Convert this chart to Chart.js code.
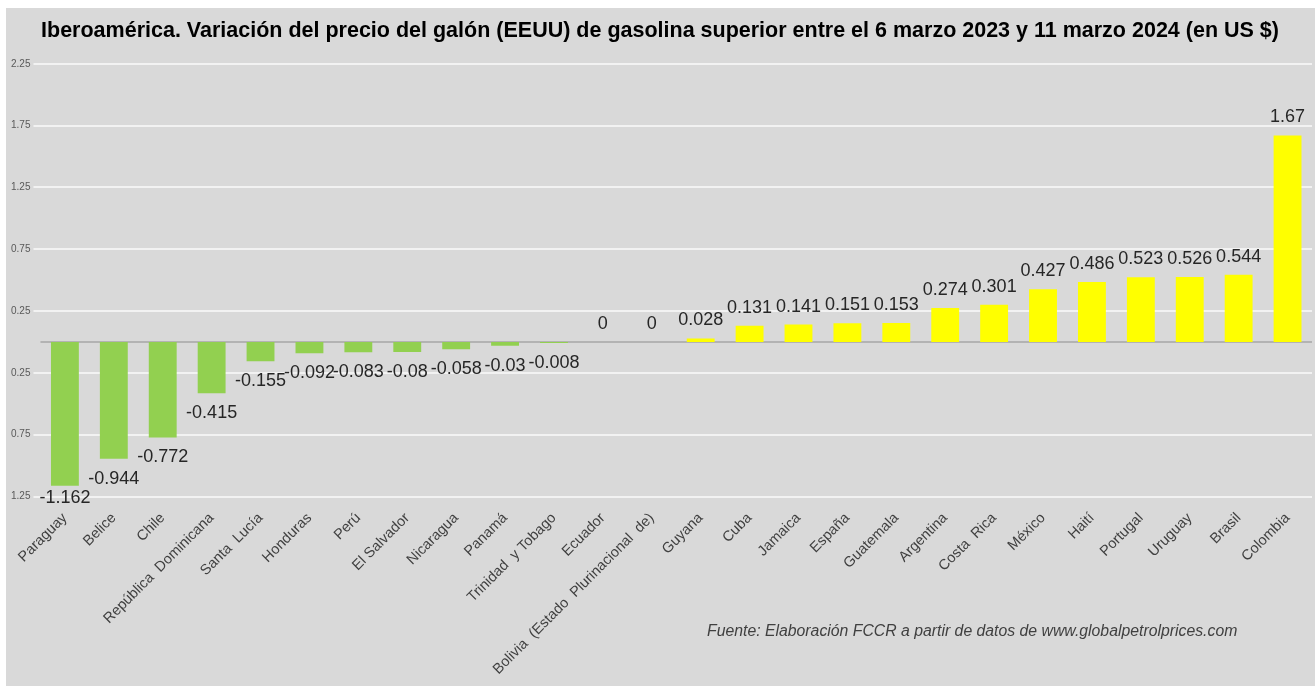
<!DOCTYPE html>
<html>
<head>
<meta charset="utf-8">
<script src="https://cdn.jsdelivr.net/npm/chart.js@4.4.1/dist/chart.umd.min.js"></script>
<style>
    body { margin: 0; background: #ffffff; }
    #wrap { position: absolute; left: 6px; top: 8px; width: 1309px; height: 678px; background: #d9d9d9; }
    #source { position: absolute; left: 701px; top: 614px; font: italic 15.8px "Liberation Sans", Arial, sans-serif; color: #404040; white-space: nowrap; }
</style>
</head>
<body>
<div id="wrap">
    <canvas id="myBarChart"></canvas>
    <div id="source">Fuente: Elaboración FCCR a partir de datos de www.globalpetrolprices.com</div>
</div>
<script>
let barChart;

const countries = ["Paraguay", "Belice", "Chile", "República  Dominicana", "Santa  Lucía", "Honduras", "Perú",
    "El Salvador", "Nicaragua", "Panamá", "Trinidad  y Tobago", "Ecuador", "Bolivia  (Estado  Plurinacional  de)",
    "Guyana", "Cuba", "Jamaica", "España", "Guatemala", "Argentina", "Costa  Rica", "México", "Haití",
    "Portugal", "Uruguay", "Brasil", "Colombia"];

const variation = [-1.162, -0.944, -0.772, -0.415, -0.155, -0.092, -0.083, -0.08, -0.058, -0.03, -0.008, 0, 0,
    0.028, 0.131, 0.141, 0.151, 0.153, 0.274, 0.301, 0.427, 0.486, 0.523, 0.526, 0.544, 1.67];

const yMin = -1.25;
const yMax = 2.25;
const yStep = 0.5;

const titleText = "Iberoamérica. Variación del precio del galón (EEUU) de gasolina superior entre el 6 marzo 2023 y 11 marzo 2024 (en US $)";

// zero line + value labels
const valueLabels = {
    id: 'valueLabels',
    beforeDatasetsDraw(chart) {
        const ctx = chart.ctx;
        const y0 = chart.scales.y.getPixelForValue(0);
        ctx.save();
        ctx.strokeStyle = '#b3b3b3';
        ctx.lineWidth = 2;
        ctx.beginPath();
        ctx.moveTo(chart.chartArea.left, y0);
        ctx.lineTo(chart.chartArea.right, y0);
        ctx.stroke();
        ctx.restore();
    },
    afterDatasetsDraw(chart) {
        const ctx = chart.ctx;
        const meta = chart.getDatasetMeta(0);
        ctx.save();
        ctx.font = '18px "Liberation Sans", Arial, sans-serif';
        ctx.fillStyle = '#262626';
        ctx.textAlign = 'center';
        ctx.textBaseline = 'middle';
        meta.data.forEach(function (bar, i) {
            const v = variation[i];
            let y;
            if (v < 0) {
                y = Math.min(bar.y + 20, chart.chartArea.bottom + 1);
            } else {
                y = bar.y - 18;
            }
            ctx.fillText(String(v), bar.x, y);
        });
        ctx.restore();
    }
};

document.addEventListener('DOMContentLoaded', function () {
    renderBarChart();
});

function renderBarChart() {
    if (barChart) {
        barChart.destroy();
    }
    const ctx = document.getElementById('myBarChart').getContext('2d');
    barChart = new Chart(ctx, {
        type: 'bar',
        data: {
            labels: countries,
            datasets: [{
                data: variation,
                backgroundColor: variation.map(v => v < 0 ? '#92d050' : '#ffff00'),
                barPercentage: 0.57,
                categoryPercentage: 1
            }]
        },
        options: {
            responsive: true,
            maintainAspectRatio: false,
            animation: false,
            layout: { padding: { left: 2, right: 3, top: 0, bottom: 3 } },
            plugins: {
                legend: { display: false },
                tooltip: { enabled: false },
                title: {
                    display: true,
                    text: titleText,
                    color: '#000000',
                    font: { family: '"Liberation Sans", Arial, sans-serif', size: 21.5, weight: 'bold' },
                    padding: { top: 10, bottom: 20 }
                }
            },
            scales: {
                x: {
                    grid: { display: false },
                    border: { display: false },
                    ticks: {
                        color: '#404040',
                        font: { family: '"Liberation Sans", Arial, sans-serif', size: 14.5 },
                        minRotation: 45,
                        maxRotation: 45,
                        autoSkip: false,
                        padding: 5
                    }
                },
                y: {
                    min: yMin,
                    max: yMax,
                    grid: { color: '#f2f2f2', lineWidth: 2, tickLength: 7, tickColor: '#f2f2f2' },
                    border: { display: false },
                    ticks: {
                        stepSize: yStep,
                        color: '#595959',
                        font: { family: '"Liberation Sans", Arial, sans-serif', size: 10 },
                        padding: 3,
                        callback: function (value) {
                            return Math.abs(value).toFixed(2);
                        }
                    }
                }
            }
        },
        plugins: [valueLabels]
    });
}
</script>
</body>
</html>
